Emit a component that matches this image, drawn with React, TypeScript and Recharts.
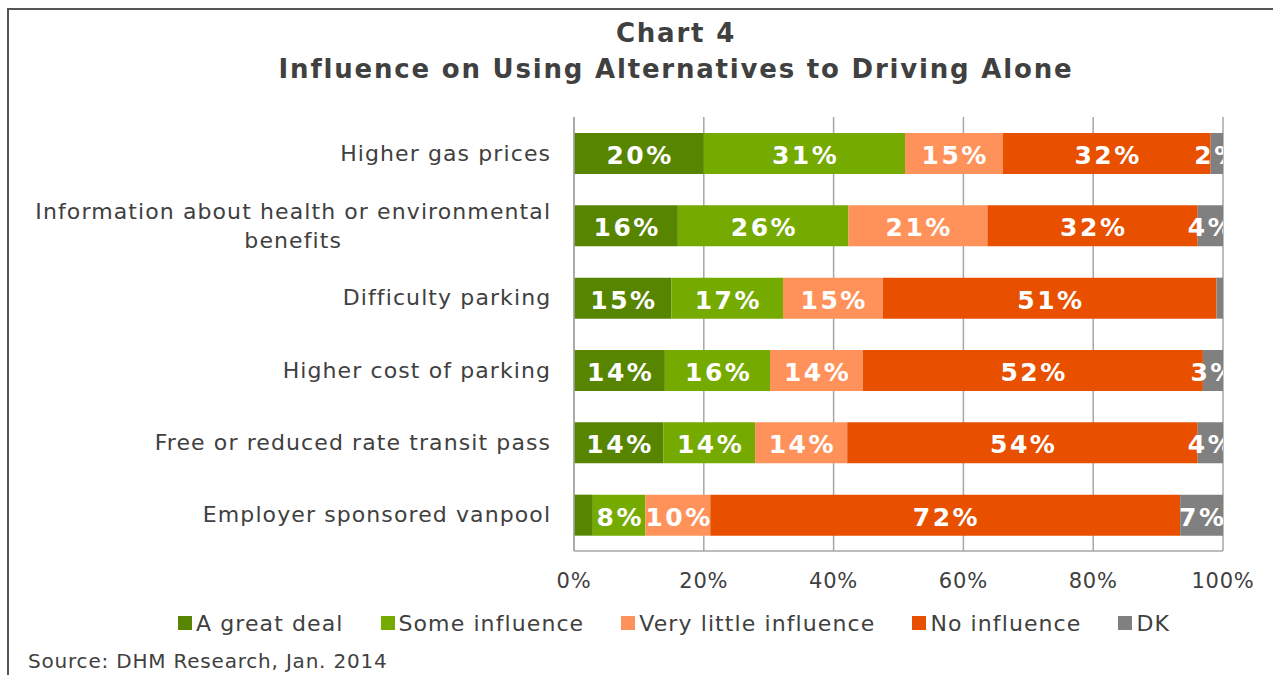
import React from 'react';
import { BarChart, Bar, XAxis, YAxis, CartesianGrid, LabelList, Legend } from 'recharts';

// categories (\n marks where the label wraps)
const categories = [
  'Higher gas prices',
  'Information about health or environmental\nbenefits',
  'Difficulty parking',
  'Higher cost of parking',
  'Free or reduced rate transit pass',
  'Employer sponsored vanpool',
];

// percent of respondents
const greatDeal = [20, 16, 15, 14, 13.8, 2.9];
const someInfluence = [31, 26.3, 17.2, 16.2, 14.1, 8.1];
const veryLittle = [15.1, 21.4, 15.4, 14.3, 14.2, 10];
const noInfluence = [32, 32.4, 51.4, 52.4, 54, 72.4];
const dontKnow = [1.9, 3.9, 1.0, 3.1, 3.9, 6.6];

const seriesKeys = ['great', 'some', 'little', 'none', 'dk'];
const seriesNames = ['A great deal', 'Some influence', 'Very little influence', 'No influence', 'DK'];
const seriesValues = [greatDeal, someInfluence, veryLittle, noInfluence, dontKnow];
const seriesColors = ['#588500', '#75aa00', '#ff925a', '#e85000', '#808080'];

const xTicks = [0, 20, 40, 60, 80, 100];

// labels that are not shown on the original
const hiddenLabels = ['Difficulty parking|dk', 'Employer sponsored vanpool|great'];

const data = categories.map((category, i) => {
  const row: any = { category };
  seriesKeys.forEach((k, s) => { row[k] = seriesValues[s][i]; });
  return row;
});

const FONT = '"DejaVu Sans", Verdana, sans-serif';
const TEXT = '#404040';

const W = 1273;
const H = 675;
const margin = { top: 117, right: 50, left: 14, bottom: 37 };
const plotLeft = 574;
const plotRight = W - margin.right;

const CAT_SIZE = 22;
const CAT_LS = 1.1;
const LBL_SIZE = 25;
const LBL_LS = 2.5;

let ctx: CanvasRenderingContext2D | null = null;
const textWidth = (t: string, font: string, ls: number) => {
  if (!ctx) ctx = document.createElement('canvas').getContext('2d');
  if (!ctx) return t.length * 12;
  ctx.font = font;
  return ctx.measureText(t).width + t.length * ls;
};

const CategoryTick = (props: any) => {
  const { x, y, payload } = props;
  const lines = String(payload.value).split('\n');
  const right = x - 16 + CAT_LS;
  const maxW = Math.max(...lines.map((l) => textWidth(l, `${CAT_SIZE}px ${FONT}`, CAT_LS)));
  const lh = 29;
  const y0 = y - ((lines.length - 1) * lh) / 2;
  return (
    <g>
      {lines.map((l, i) => (
        <text key={i} x={right - maxW / 2} y={y0 + i * lh} textAnchor="middle" dominantBaseline="central"
          fontFamily={FONT} fontSize={CAT_SIZE} fill={TEXT} style={{ letterSpacing: `${CAT_LS}px` }}>
          {l}
        </text>
      ))}
    </g>
  );
};

const makeLabel = (key: string) => (props: any) => {
  const { x, y, width, height, value, index } = props;
  if (value == null) return null;
  if (hiddenLabels.includes(`${categories[index]}|${key}`)) return null;
  const id = `clip-${key}-${index}`;
  return (
    <g>
      <defs>
        <clipPath id={id}>
          <rect x={plotLeft} y={y} width={plotRight - plotLeft} height={height} />
        </clipPath>
      </defs>
      <text x={x + width / 2 + LBL_LS / 2} y={y + height / 2 + 2} textAnchor="middle" dominantBaseline="central"
        fontFamily={FONT} fontWeight="bold" fontSize={LBL_SIZE} fill="#ffffff" clipPath={`url(#${id})`}
        style={{ letterSpacing: `${LBL_LS}px` }}>
        {Math.round(value)}%
      </text>
    </g>
  );
};

const LegendContent = () => (
  <div style={{ height: 30, display: 'flex', alignItems: 'center', paddingLeft: 178, fontFamily: FONT, fontSize: 22, letterSpacing: 1.1, color: TEXT, whiteSpace: 'nowrap' }}>
    {seriesNames.map((name, i) => (
      <div key={name} style={{ display: 'flex', alignItems: 'center', marginRight: 37 }}>
        <span style={{ width: 14, height: 14, background: seriesColors[i], marginRight: 4, display: 'inline-block' }} />
        <span>{name}</span>
      </div>
    ))}
  </div>
);

export default function App() {
  return (
    <div style={{ position: 'absolute', left: 0, top: 0, width: W, height: H, overflow: 'hidden', background: '#fff' }}>
      <div style={{ position: 'absolute', left: 7, top: 8, width: 1400, height: 800, borderTop: '2px solid #555', borderLeft: '2px solid #555' }} />
      <div style={{ position: 'absolute', left: 0, top: 17, width: 1352, textAlign: 'center', fontFamily: FONT, fontWeight: 'bold', fontSize: 26, lineHeight: '32px', color: TEXT, letterSpacing: 1.8 }}>
        Chart 4
      </div>
      <div style={{ position: 'absolute', left: 0, top: 53, width: 1352, textAlign: 'center', fontFamily: FONT, fontWeight: 'bold', fontSize: 26, lineHeight: '32px', color: TEXT, letterSpacing: 1.8 }}>
        Influence on Using Alternatives to Driving Alone
      </div>
      <div style={{ position: 'absolute', left: 0, top: 0 }}>
        <BarChart width={W} height={H} data={data} layout="vertical" margin={margin} barSize={41}>
          <CartesianGrid horizontal={false} stroke="#a6a6a6" strokeWidth={1.5} />
          <XAxis type="number" domain={[0, 100]} ticks={xTicks} tickFormatter={(v) => `${v}%`}
            axisLine={{ stroke: '#a6a6a6', strokeWidth: 1.5 }} tickLine={false} height={57}
            tick={{ fontFamily: FONT, fontSize: 21, fill: TEXT, style: { letterSpacing: '0.8px' } }} tickMargin={16} interval={0} />
          <YAxis type="category" dataKey="category" width={560} tick={<CategoryTick />}
            axisLine={{ stroke: '#a6a6a6', strokeWidth: 1.5 }} tickLine={false} interval={0} />
          <Legend verticalAlign="bottom" content={<LegendContent />} wrapperStyle={{ left: 0, width: W }} />
          {seriesKeys.map((k, i) => (
            <Bar key={k} dataKey={k} name={seriesNames[i]} stackId="a" fill={seriesColors[i]} isAnimationActive={false}>
              <LabelList dataKey={k} content={makeLabel(k)} />
            </Bar>
          ))}
        </BarChart>
      </div>
      <div style={{ position: 'absolute', left: 28, top: 649, fontFamily: FONT, fontSize: 20, letterSpacing: 0.8, color: TEXT, whiteSpace: 'pre' }}>
        Source: DHM Research, Jan. 2014
      </div>
    </div>
  );
}
